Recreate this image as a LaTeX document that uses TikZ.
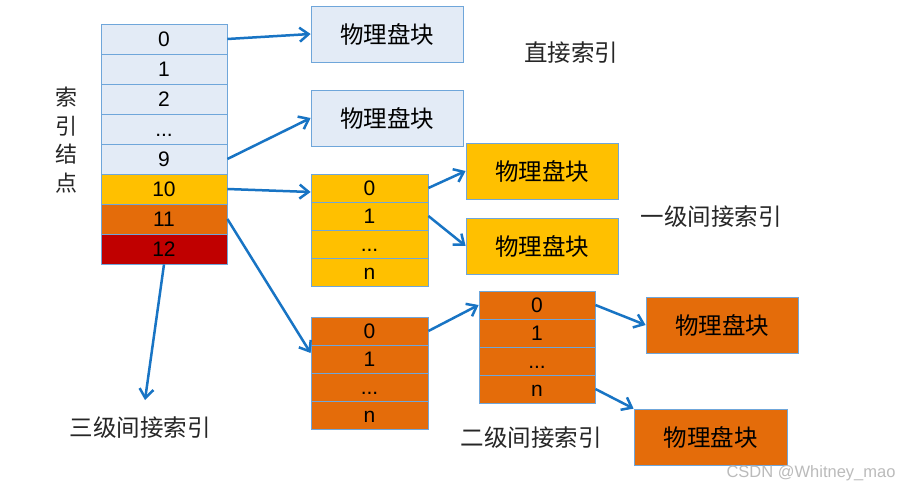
\documentclass[tikz,border=0pt]{standalone}
\usepackage{fontspec}
\setmainfont{Liberation Sans}
\newfontfamily\cjk{Noto Sans CJK SC}
\usetikzlibrary{arrows.meta}
\definecolor{cellblue}{HTML}{E3EBF6}
\definecolor{bordblue}{HTML}{6FA6DA}
\definecolor{cyell}{HTML}{FFC000}
\definecolor{corange}{HTML}{E46C0A}
\definecolor{cred}{HTML}{C00000}
\definecolor{arrowblue}{HTML}{1874C4}
\definecolor{txtgray}{HTML}{262626}
\definecolor{wmgray}{HTML}{BBBBBB}
\begin{document}
\begin{tikzpicture}[x=1pt,y=-1pt,
  mcell/.style={draw=bordblue,line width=0.8pt,minimum width=126pt,minimum height=30pt,inner sep=0pt,text height=15pt,text depth=0pt,font=\fontsize{21}{21}\selectfont},
  scell/.style={mcell,minimum width=117pt,minimum height=28pt},
  blk/.style={draw=bordblue,line width=0.8pt,minimum width=152pt,minimum height=56pt,inner sep=0pt,font=\cjk\fontsize{23.5}{23.5}\selectfont},
  lbl/.style={text=txtgray,font=\cjk\fontsize{23.5}{23.5}\selectfont,inner sep=0pt},
  arr/.style={draw=arrowblue,line width=2.5pt,-{Straight Barb[length=9pt,width=14pt]}}]
\fill[white] (0,0) rectangle (901,489);
\useasboundingbox (0,0) rectangle (901,489);

% main index node
\node[mcell,fill=cellblue] (m0) at (164,39) {0};
\node[mcell,fill=cellblue] (m1) at (164,69) {1};
\node[mcell,fill=cellblue] (m2) at (164,99) {2};
\node[mcell,fill=cellblue] (m3) at (164,129) {...};
\node[mcell,fill=cellblue] (m9) at (164,159) {9};
\node[mcell,fill=cyell] (m10) at (164,189) {10};
\node[mcell,fill=corange] (m11) at (164,219) {11};
\node[mcell,fill=cred] (m12) at (164,249) {12};

\node[lbl,align=center,font=\cjk\fontsize{22}{28.5}\selectfont] (side) at (66,140) {索\\引\\结\\点};

% direct blocks
\node[blk,fill=cellblue] (b1) at (387,34) {物理盘块};
\node[blk,fill=cellblue] (b2) at (387,118) {物理盘块};
\node[lbl] (l0) at (571,53) {直接索引};

% single indirect
\node[scell,fill=cyell] (y0) at (369.5,188) {0};
\node[scell,fill=cyell] (y1) at (369.5,216) {1};
\node[scell,fill=cyell] (y2) at (369.5,244) {...};
\node[scell,fill=cyell] (y3) at (369.5,272) {n};
\node[blk,fill=cyell] (yb1) at (542,171) {物理盘块};
\node[blk,fill=cyell] (yb2) at (542,246) {物理盘块};
\node[lbl] (l1) at (711,217) {一级间接索引};

% double indirect
\node[scell,fill=corange] (o0) at (369.5,331) {0};
\node[scell,fill=corange] (o1) at (369.5,359) {1};
\node[scell,fill=corange] (o2) at (369.5,387) {...};
\node[scell,fill=corange] (o3) at (369.5,415) {n};
\node[scell,fill=corange,minimum width=116pt] (p0) at (537,305) {0};
\node[scell,fill=corange,minimum width=116pt] (p1) at (537,333) {1};
\node[scell,fill=corange,minimum width=116pt] (p2) at (537,361) {...};
\node[scell,fill=corange,minimum width=116pt] (p3) at (537,389) {n};
\node[blk,fill=corange] (ob1) at (722,325) {物理盘块};
\node[blk,fill=corange,minimum width=153pt] (ob2) at (710.5,437) {物理盘块};
\node[lbl] (l2) at (531,438) {二级间接索引};

% triple indirect
\node[lbl] (l3) at (140,428) {三级间接索引};
\coordinate (t3) at (145,400);

\node[text=wmgray,font=\fontsize{16.5}{16.5}\selectfont,inner sep=0pt] (wm) at (811,473) {CSDN @Whitney\_mao};

% arrows
\draw[arr] (m0.east) -- (b1.west);
\draw[arr] (m9.east) -- (b2.west);
\draw[arr] (m10.east) -- ([yshift=-4pt]y0.west);
\draw[arr] (m11.east) -- ([yshift=6pt]o1.west);
\draw[arr] (m12.south) -- (t3);
\draw[arr] (y0.east) -- (yb1.west);
\draw[arr] (y1.east) -- (yb2.west);
\draw[arr] (o0.east) -- (p0.west);
\draw[arr] (p0.east) -- (ob1.west);
\draw[arr] (p3.east) -- (ob2.north west);
\end{tikzpicture}
\end{document}
